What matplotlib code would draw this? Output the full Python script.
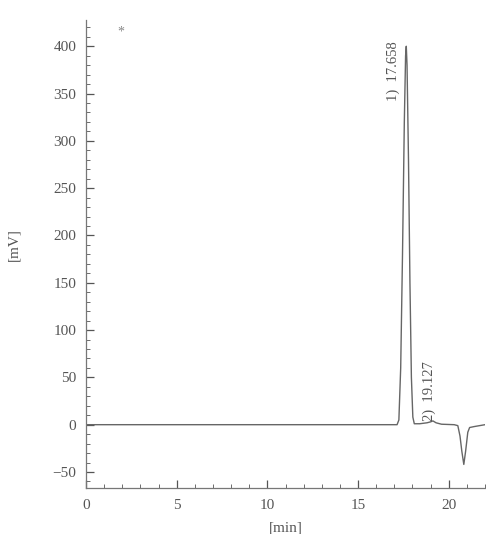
import matplotlib
matplotlib.use("Agg")
import matplotlib.pyplot as plt
from matplotlib.ticker import MultipleLocator

# chromatogram trace
time_min = [0.0, 5.0, 10.0, 15.0, 17.15, 17.25, 17.35, 17.45, 17.55, 17.62, 17.658,
            17.70, 17.78, 17.86, 17.94, 18.02, 18.1, 18.4, 18.8, 19.0, 19.127,
            19.3, 19.6, 20.3, 20.5, 20.62, 20.72, 20.83, 20.93, 21.05, 21.15, 21.4, 22.0]
signal_mv = [0.0, 0.0, 0.0, 0.0, 0.0, 5.0, 60.0, 180.0, 320.0, 390.0, 400.0,
             380.0, 280.0, 150.0, 50.0, 8.0, 1.0, 1.0, 2.0, 3.0, 4.0,
             2.0, 0.5, 0.0, -1.0, -12.0, -28.0, -42.0, -28.0, -8.0, -3.0, -2.0, 0.0]

peak_labels = ["1)  17.658", "2)  19.127"]
peak_label_x = [16.95, 18.95]
peak_label_y = [342, 4]

x_ticks = [0, 5, 10, 15, 20]
y_ticks = [-50, 0, 50, 100, 150, 200, 250, 300, 350, 400]

plt.rcParams['font.family'] = ['Liberation Serif', 'DejaVu Serif']
col = '#555555'

fig = plt.figure(figsize=(4.86, 5.34), dpi=100)
ax = fig.add_axes([0.177, 0.086, 0.821, 0.877])
ax.plot(time_min, signal_mv, color='#666666', lw=1.0)

ax.set_xlim(0, 22)
ax.set_ylim(-67, 428)
ax.set_xticks(x_ticks)
ax.set_yticks(y_ticks)
ax.xaxis.set_minor_locator(MultipleLocator(1))
ax.yaxis.set_minor_locator(MultipleLocator(10))
ax.tick_params(which='both', direction='in', colors=col, labelsize=11, labelcolor=col)
ax.tick_params(which='major', length=6, width=0.9)
ax.tick_params(which='minor', length=3, width=0.6)
ax.tick_params(axis='x', pad=8)
ax.tick_params(axis='y', pad=7)
for s in ['top', 'right']:
    ax.spines[s].set_visible(False)
for s in ['left', 'bottom']:
    ax.spines[s].set_color('#777777')
    ax.spines[s].set_linewidth(0.9)

ax.set_ylabel('[mV]', color=col, fontsize=11)
ax.yaxis.set_label_coords(-0.165, 0.52)
ax.set_xlabel('[min]', color=col, fontsize=11)
ax.xaxis.set_label_coords(0.5, -0.072)

for lab, x, y in zip(peak_labels, peak_label_x, peak_label_y):
    ax.text(x, y, lab, rotation=90, ha='center', va='bottom', fontsize=10.5, color=col)

ax.text(1.9, 415, '*', ha='center', va='center', fontsize=10, color='#888888')

fig.savefig('out.png', dpi=100)
